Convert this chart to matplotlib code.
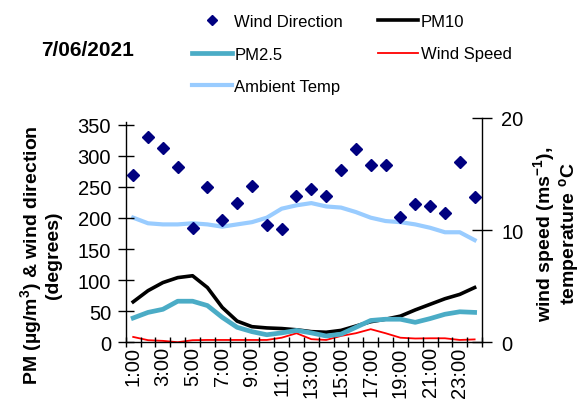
import matplotlib
matplotlib.use("Agg")
import matplotlib.pyplot as plt
import numpy as np

plt.rcParams['font.family'] = ['Liberation Sans', 'DejaVu Sans']
plt.rcParams['mathtext.fontset'] = 'custom'
plt.rcParams['mathtext.rm'] = 'Liberation Sans:bold'
plt.rcParams['mathtext.it'] = 'Liberation Sans:bold'
plt.rcParams['mathtext.bf'] = 'Liberation Sans:bold'
plt.rcParams['mathtext.default'] = 'rm'

hours = [f"{h}:00" for h in range(1, 25)]
wind_dir = [270, 330, 313, 282, 184, 250, 196, 224, 251, 189, 182, 235,
            247, 236, 277, 311, 286, 286, 202, 223, 219, 208, 290, 233]
pm10 = [65, 83, 96, 104, 107, 88, 56, 34, 25, 23, 22, 20,
        17, 16, 19, 26, 33, 37, 42, 52, 61, 70, 77, 88]
pm25 = [39, 48, 53, 66, 66, 59, 40, 24, 17, 12, 15, 19,
        15, 10, 13, 24, 35, 37, 37, 32, 38, 45, 49, 48]
temp = [11.1, 10.6, 10.5, 10.5, 10.6, 10.5, 10.3, 10.5, 10.7, 11.1, 11.9, 12.2,
        12.4, 12.1, 12.0, 11.6, 11.1, 10.8, 10.7, 10.5, 10.2, 9.8, 9.8, 9.1]
wind_speed = [0.47, 0.18, 0.12, 0.0, 0.18, 0.2, 0.2, 0.2, 0.2, 0.2, 0.4, 0.8,
              0.27, 0.2, 0.56, 0.8, 1.16, 0.8, 0.4, 0.33, 0.35, 0.35, 0.2, 0.25]

x = np.arange(len(hours))

fig = plt.figure(figsize=(5.85, 4.14), dpi=100)
ax = fig.add_axes([0.215, 0.171, 0.609, 0.542])
ax2 = ax.twinx()

h_wd, = ax.plot(x, wind_dir, 'D', color='#000080', markersize=6.3, label='Wind Direction')
h_pm10, = ax.plot(x, pm10, color='black', lw=2.6, label='PM10')
h_pm25, = ax.plot(x, pm25, color='#4BACC6', lw=3.4, label='PM2.5')
h_t, = ax2.plot(x, temp, color='#99CCFF', lw=3.0, label='Ambient Temp')
h_ws, = ax2.plot(x, wind_speed, color='#FF0000', lw=1.3, label='Wind Speed')
ax.set_zorder(ax2.get_zorder() + 1)
ax.patch.set_visible(False)

ax.set_xlim(-0.5, len(hours) - 0.5)
ax.set_ylim(0, 361.3)
ax2.set_ylim(0, 20)
ax.set_yticks(np.arange(0, 351, 50))
ax2.set_yticks([0, 10, 20])
ax.spines['left'].set_bounds(0, 355)

ax.spines['top'].set_visible(False)
ax2.spines['top'].set_visible(False)
ax.spines['right'].set_visible(False)
ax2.spines['left'].set_visible(False)
ax2.spines['bottom'].set_visible(False)
for a in (ax, ax2):
    for sp in a.spines.values():
        sp.set_linewidth(1.0)

ax.set_xticks(np.arange(-0.5, len(hours)), [''] * (len(hours) + 1))
ax.set_xticks(x[::2], hours[::2], minor=True)
ax.tick_params(axis='x', which='major', direction='inout', length=7, width=1)
ax.tick_params(axis='x', which='minor', length=0, labelsize=14.5, labelrotation=90, pad=3)
ax.tick_params(axis='y', direction='inout', length=11, width=1, labelsize=14.5, pad=5)
ax2.tick_params(axis='y', direction='inout', length=14, width=1, labelsize=14.5, pad=7)

fig.text(0.068, 1 - 255 / 414, "PM (µg/m$^{3}$) & wind direction\n(degrees)",
         rotation=90, ha='center', va='center', fontsize=14, fontweight='bold',
         multialignment='center', linespacing=1.05)
fig.text(0.95, 1 - 234 / 414, "wind speed (ms$^{-1}$),\ntemperature $^{o}$C",
         rotation=90, ha='center', va='center', fontsize=14, fontweight='bold',
         multialignment='center', linespacing=1.0)

fig.text(88 / 585, 1 - 50 / 414, "7/06/2021", ha='center', va='center',
         fontsize=15, fontweight='bold')

fig.legend(handles=[h_wd, h_pm25, h_t, h_pm10, h_ws], ncol=2, loc='upper left',
           bbox_to_anchor=(192 / 585, 1 - 15 / 414), frameon=False, fontsize=12,
           handlelength=2.4, handletextpad=0.15, columnspacing=2.1,
           labelspacing=1.05, borderaxespad=0, borderpad=0, markerscale=0.75)

fig.savefig('out.png', dpi=100)
